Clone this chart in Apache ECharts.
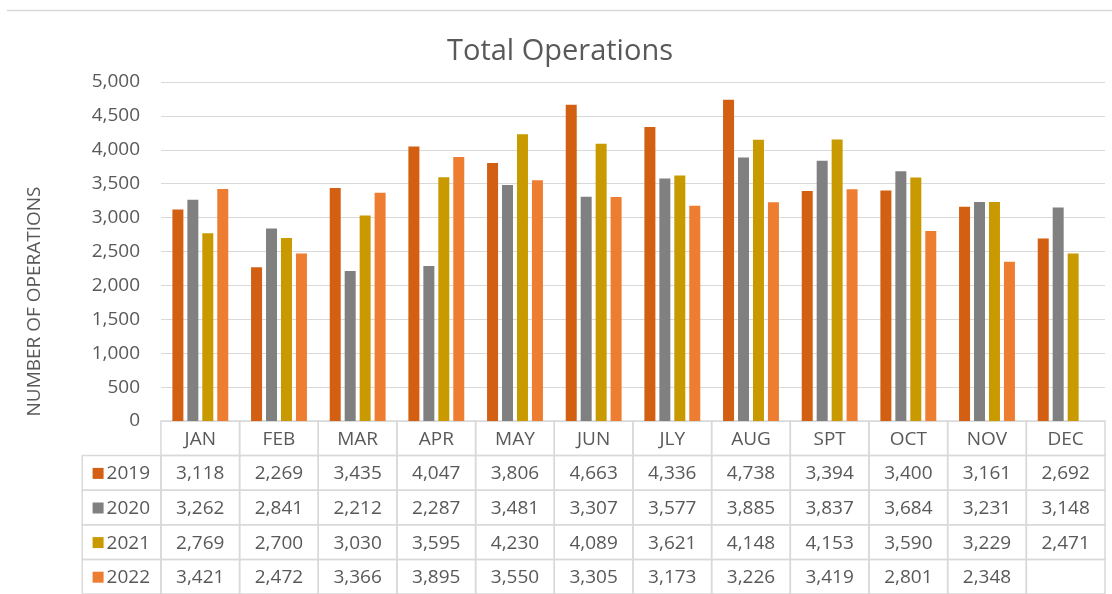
<!DOCTYPE html>
<html><head><meta charset="utf-8">
<script src="https://cdn.jsdelivr.net/npm/echarts/dist/echarts.min.js"></script>
<style>html,body{margin:0;padding:0;background:#fff}#c{width:1112px;height:594px}</style>
</head><body><div id="c"></div>
<script>
const months = ['JAN','FEB','MAR','APR','MAY','JUN','JLY','AUG','SPT','OCT','NOV','DEC'];
const years = ['2019','2020','2021','2022'];
const ops2019 = [3118,2269,3435,4047,3806,4663,4336,4738,3394,3400,3161,2692];
const ops2020 = [3262,2841,2212,2287,3481,3307,3577,3885,3837,3684,3231,3148];
const ops2021 = [2769,2700,3030,3595,4230,4089,3621,4148,4153,3590,3229,2471];
const ops2022 = [3421,2472,3366,3895,3550,3305,3173,3226,3419,2801,2348,null];
const yMin = 0, yMax = 5000, yStep = 500;
const titleText = 'Total Operations';
const yTitle = 'NUMBER OF OPERATIONS';

const seriesData = [ops2019, ops2020, ops2021, ops2022];
const colors = ['#d35f13', '#808080', '#c99a00', '#ed7d31'];
const FONT = "'Open Sans', 'Liberation Sans', sans-serif";
const TXT = '#595959';
const LINE = '#d9d9d9';
const fmt = v => (v == null ? '' : v.toLocaleString('en-US'));

// table cells
const cells = [];
months.forEach((m, i) => cells.push({ col: i + 1, row: 0, kind: 'head', text: m }));
years.forEach((y, r) => {
  cells.push({ col: 0, row: r + 1, kind: 'legend', text: y, color: colors[r] });
  seriesData[r].forEach((v, i) => cells.push({ col: i + 1, row: r + 1, kind: 'val', text: fmt(v) }));
});

const chart = echarts.init(document.getElementById('c'), null, { renderer: 'canvas' });

const barSeries = years.map((y, k) => ({
  name: y, type: 'bar', xAxisIndex: 0, yAxisIndex: 0,
  data: seriesData[k], barWidth: 11, barGap: '36%',
  itemStyle: { color: colors[k] }, silent: true
}));

chart.setOption({
  animation: false,
  textStyle: { fontFamily: FONT },
  title: {
    text: titleText, left: 447, top: 37, padding: 0,
    textStyle: { fontFamily: FONT, fontSize: 29, fontWeight: 'normal', color: TXT }
  },
  grid: [
    { left: 161, right: 7, top: 82, height: 339 },
    { left: 82.25, right: 7, top: 421, bottom: 0 }
  ],
  xAxis: [
    { type: 'category', gridIndex: 0, data: months,
      axisLine: { show: false }, axisTick: { show: false }, axisLabel: { show: false } },
    { type: 'category', gridIndex: 1, data: [''].concat(months), show: false }
  ],
  yAxis: [
    { type: 'value', gridIndex: 0, min: yMin, max: yMax, interval: yStep,
      axisLine: { show: false }, axisTick: { show: false },
      axisLabel: { margin: 21, fontSize: 19, color: TXT, fontFamily: FONT, formatter: v => fmt(v) },
      splitLine: { lineStyle: { color: LINE, width: 1 } } },
    { type: 'category', gridIndex: 1, data: ['hdr'].concat(years), inverse: true, show: false }
  ],
  graphic: [
    { type: 'line', shape: { x1: 7, y1: 10.5, x2: 1112, y2: 10.5 }, style: { stroke: LINE, lineWidth: 1.5 }, silent: true },
    { type: 'text', x: 35, y: 301.5, rotation: Math.PI / 2,
      style: { text: yTitle, fontSize: 19, fontFamily: FONT, fill: TXT, align: 'center', verticalAlign: 'middle' }, silent: true }
  ],
  series: barSeries.concat([{
    type: 'custom', coordinateSystem: 'cartesian2d', xAxisIndex: 1, yAxisIndex: 1,
    silent: true, clip: false,
    data: cells.map(c => [c.col, c.row]),
    renderItem: function (params, api) {
      const cell = cells[params.dataIndex];
      const c = api.coord([api.value(0), api.value(1)]);
      const s = api.size([1, 1]);
      const x0 = c[0] - s[0] / 2, y0 = c[1] - s[1] / 2;
      const children = [{
        type: 'rect', shape: { x: x0, y: y0, width: s[0], height: s[1] },
        style: { fill: 'none', stroke: LINE, lineWidth: 1.5 }
      }];
      if (cell.kind === 'legend') {
        const gx = c[0] - 29;
        children.push({ type: 'rect', shape: { x: gx, y: c[1] - 5, width: 11, height: 11 }, style: { fill: cell.color } });
        children.push({ type: 'text', style: { x: gx + 14, y: c[1] + 1, text: cell.text, fontSize: 19, fontFamily: FONT, fill: TXT, align: 'left', verticalAlign: 'middle' } });
      } else {
        children.push({ type: 'text', style: { x: c[0], y: c[1] + 1, text: cell.text, fontSize: 19, fontFamily: FONT, fill: TXT, align: 'center', verticalAlign: 'middle' } });
      }
      return { type: 'group', children: children };
    }
  }])
});
</script>
</body></html>
